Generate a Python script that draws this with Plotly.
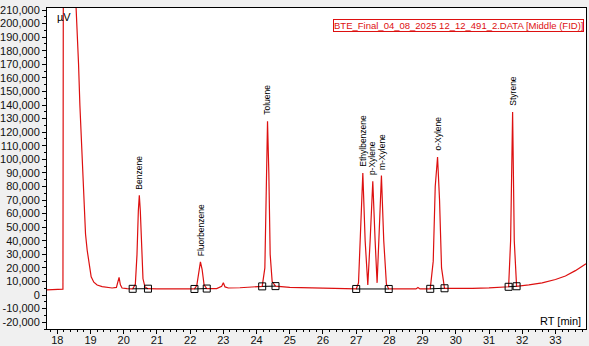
import plotly.graph_objects as go

# ---- data ----
rt_min = [17.69, 17.9, 18.0, 18.1, 18.16, 18.17, 18.19, 18.50, 18.56, 18.60, 18.64, 18.68, 18.72,
          18.76, 18.80, 18.85, 18.90, 18.96, 19.02, 19.10, 19.20, 19.35, 19.50, 19.65, 19.78,
          19.83, 19.86, 19.90, 19.95, 20.10, 20.27, 20.35, 20.40, 20.44, 20.47, 20.50, 20.54,
          20.58, 20.64, 20.73, 21.0, 21.5, 22.13, 22.20, 22.26, 22.31, 22.36, 22.42, 22.50,
          22.8, 22.95, 23.0, 23.05, 23.15, 23.5, 24.0, 24.17, 24.25, 24.29, 24.33, 24.37,
          24.41, 24.47, 24.57, 25.0, 25.5, 26.0, 26.5, 27.0, 27.07, 27.13, 27.20, 27.27,
          27.35, 27.42, 27.50, 27.57, 27.63, 27.69, 27.76, 27.83, 27.91, 27.98, 28.3, 28.8,
          28.86, 28.92, 29.23, 29.32, 29.38, 29.45, 29.51, 29.57, 29.66, 30.0, 30.5, 31.0,
          31.59, 31.65, 31.71, 31.76, 31.83, 32.2, 32.6, 33.0, 33.3, 33.6, 33.92]
signal_uv = [3800, 4000, 3700, 4000, 3900, 4400, 400000, 400000, 215000, 195000, 170000, 140000, 115000,
             90000, 65000, 45000, 33000, 21000, 13500, 9500, 7400, 6200, 5600, 5200, 5600,
             10000, 13000, 7500, 5200, 4800, 4600, 8000, 30000, 62000, 73500, 62000, 30000,
             12000, 6000, 4700, 4500, 4400, 4500, 7000, 19000, 24500, 19000, 7500, 4800,
             4800, 6500, 9000, 6000, 5200, 5400, 5900, 6400, 20000, 90000, 128000, 90000,
             30000, 10000, 6600, 5600, 5200, 4800, 4700, 4500, 9000, 45000, 90000, 40000,
             7400, 40000, 83800, 40000, 9000, 45000, 88000, 40000, 8000, 4500, 4400, 4500,
             5500, 4500, 4600, 25000, 80000, 101700, 70000, 20000, 5000, 4800, 5000, 5300,
             6100, 40000, 134800, 40000, 6500, 7500, 9000, 11500, 14000, 18000, 23000]

peak_names = ["Benzene", "Fluorbenzene", "Toluene", "Ethylbenzene", "p-Xylene", "m-Xylene", "o-Xylene", "Styrene"]
peak_rt = [20.47, 22.31, 24.33, 27.20, 27.50, 27.76, 29.45, 31.71]
peak_height = [73500, 24500, 128000, 90000, 83800, 88000, 101700, 134800]

base_start_rt = [20.27, 22.13, 24.17, 27.00, 29.23, 31.59]
base_start_uv = [4600, 4500, 6400, 4500, 4600, 6100]
base_end_rt = [20.73, 22.50, 24.57, 27.98, 29.66, 31.83]
base_end_uv = [4700, 4800, 6600, 4500, 5000, 6500]

x_tick_vals = list(range(18, 34))
y_tick_vals = list(range(-20000, 210001, 10000))
y_tick_text = [f"{v:,}" for v in y_tick_vals]

title_text = "BTE_Final_04_08_2025 12_12_491_2.DATA [Middle (FID)]"

fig = go.Figure()
fig.add_trace(go.Scatter(x=rt_min, y=signal_uv, mode="lines",
                         line=dict(color="#dd1010", width=1.2), showlegend=False,
                         hoverinfo="skip"))
for xs, ys, xe, ye in zip(base_start_rt, base_start_uv, base_end_rt, base_end_uv):
    fig.add_trace(go.Scatter(x=[xs, xe], y=[ys, ye], mode="lines+markers",
                             line=dict(color="black", width=1),
                             marker=dict(symbol="square-open", size=7, color="black",
                                         line=dict(width=1)),
                             showlegend=False, hoverinfo="skip"))

for name, xr, h in zip(peak_names, peak_rt, peak_height):
    fig.add_annotation(x=xr, y=h, text=name, showarrow=False, textangle=-90,
                       xanchor="center", yanchor="bottom", yshift=4,
                       font=dict(family="Liberation Sans, Arial", size=8.5, color="black"))

fig.add_annotation(xref="paper", yref="paper", x=0.996, y=0.947, text=title_text,
                   showarrow=False, xanchor="right", yanchor="middle",
                   font=dict(family="Liberation Sans, Arial", size=9.5, color="#dd1010"),
                   bordercolor="#dd1010", borderwidth=1, borderpad=0, bgcolor="white")
fig.add_annotation(xref="paper", yref="paper", x=0.014, y=0.972, text="µV",
                   showarrow=False, xanchor="left", yanchor="middle",
                   font=dict(family="Liberation Sans, Arial", size=11, color="black"))
fig.add_annotation(xref="paper", yref="paper", x=0.994, y=0.024, text="RT [min]",
                   showarrow=False, xanchor="right", yanchor="middle",
                   font=dict(family="Liberation Sans, Arial", size=11, color="black"))

fig.update_layout(
    width=589, height=346,
    margin=dict(l=47, r=3, t=8, b=17),
    paper_bgcolor="#f0f0f0", plot_bgcolor="white",
    font=dict(family="Liberation Sans, Arial", size=11, color="#111"),
    xaxis=dict(range=[17.69, 33.92], tickvals=x_tick_vals, ticks="outside", ticklen=4,
               tickcolor="black", showgrid=False, zeroline=False, automargin=False,
               showline=True, linecolor="black", linewidth=1, mirror=True,
               ticklabelstandoff=-3,
               minor=dict(dtick=0.2, ticks="outside", ticklen=2, tickcolor="black"),
               tickfont=dict(size=11)),
    yaxis=dict(range=[-25000, 211500], tickvals=y_tick_vals, ticktext=y_tick_text,
               ticks="outside", ticklen=4, tickcolor="black", showgrid=False, zeroline=False,
               automargin=False,
               showline=True, linecolor="black", linewidth=1, mirror=True,
               minor=dict(dtick=5000, ticks="outside", ticklen=2, tickcolor="black"),
               tickfont=dict(size=11)),
)

fig.write_html("out.html")
